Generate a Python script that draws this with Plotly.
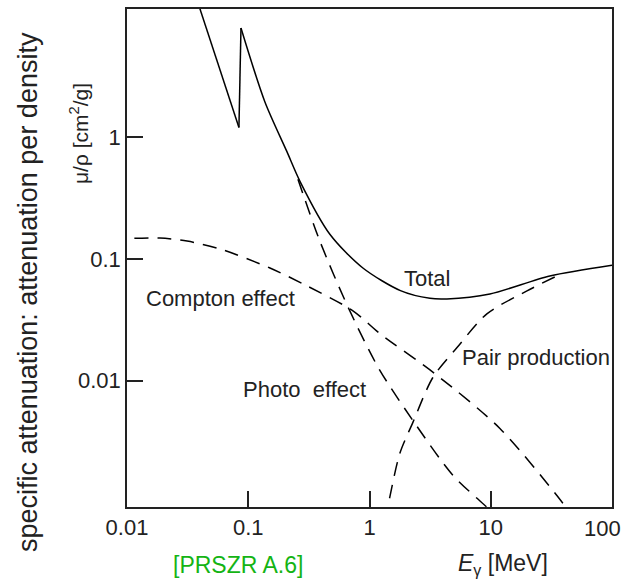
import plotly.graph_objects as go

# ---- data ----
E_total_low = [0.035, 0.0838]
mu_total_low = [17.1, 1.21]

E_total_high = [0.0838, 0.0871, 0.137, 0.208, 0.267, 0.471, 0.882, 1.8, 3.15, 4.35, 9.85, 30.7, 100]
mu_total_high = [1.21, 7.97, 1.97, 0.768, 0.436, 0.160, 0.0844, 0.055, 0.0475, 0.047, 0.0516, 0.0726, 0.089]

E_photo = [0.257, 0.390, 0.664, 1.195, 2.37, 4.88, 9.29, 11.0]
mu_photo = [0.453, 0.140, 0.0404, 0.01254, 0.00444, 0.00166, 0.00091, 0.00078]

E_compton = [0.0115, 0.0187, 0.0313, 0.0585, 0.151, 0.305, 0.730, 1.22, 3.46, 11.9, 39.3, 45.0]
mu_compton = [0.148, 0.149, 0.1405, 0.121, 0.0844, 0.0601, 0.0375, 0.0243, 0.0114, 0.00404, 0.00098, 0.00080]

E_pair = [1.35, 1.47, 1.78, 2.28, 3.33, 5.25, 9.29, 19.9, 33.7]
mu_pair = [0.0007, 0.0011, 0.00252, 0.00453, 0.0106, 0.0186, 0.0354, 0.0547, 0.0711]

x_tickvals = [0.01, 0.1, 1, 10, 100]
x_ticktext = ["0.01", "0.1", "1", "10", " "]
y_tickvals = [0.01, 0.1, 1]
y_ticktext = ["0.01", "0.1", "1"]

curve_labels = ["Total", "Compton effect", "Photo\u00a0\u00a0effect", "Pair production"]
# label positions as log10(E) and log10(mu/rho) (log axes take log-unit coordinates)
curve_label_logE = [0.473, -1.233, -0.533, 1.372]
curve_label_logmu = [-1.164, -1.328, -2.074, -1.811]

FONT = "Liberation Sans, Arial, sans-serif"
TXT = "#222222"
FS = 22

fig = go.Figure()
solid = dict(color="black", width=1.5)
dashed = dict(color="black", width=1.5, dash="14px,9px")

fig.add_trace(go.Scatter(x=E_total_low, y=mu_total_low, mode="lines", line=solid))
fig.add_trace(go.Scatter(x=E_total_high[:2], y=mu_total_high[:2], mode="lines", line=solid))
fig.add_trace(go.Scatter(x=E_total_high[1:], y=mu_total_high[1:], mode="lines",
                         line=dict(solid, shape="spline", smoothing=0.8)))
fig.add_trace(go.Scatter(x=E_photo, y=mu_photo, mode="lines",
                         line=dict(dashed, shape="spline", smoothing=0.8)))
fig.add_trace(go.Scatter(x=E_compton, y=mu_compton, mode="lines",
                         line=dict(dashed, shape="spline", smoothing=0.8)))
fig.add_trace(go.Scatter(x=E_pair, y=mu_pair, mode="lines",
                         line=dict(dashed, shape="spline", smoothing=0.8)))

for t, xe, ym in zip(curve_labels, curve_label_logE, curve_label_logmu):
    fig.add_annotation(x=xe, y=ym, xref="x", yref="y", text=t, showarrow=False,
                       xanchor="center", yanchor="middle",
                       font=dict(family=FONT, size=FS, color=TXT))

# x tick label at the right end (kept inside the page)
fig.add_annotation(x=2, y=-0.044, xref="x", yref="paper", text="100", showarrow=False,
                   xanchor="right", yanchor="middle", xshift=11,
                   font=dict(family=FONT, size=FS, color=TXT))

# axis titles
fig.add_annotation(x=-0.204, y=0.432, xref="paper", yref="paper",
                   text="specific attenuation: attenuation per density",
                   textangle=-90, showarrow=False, xanchor="center", yanchor="middle",
                   font=dict(family=FONT, size=27, color=TXT))
fig.add_annotation(x=-0.1, y=0.75, xref="paper", yref="paper",
                   text="μ/ρ [cm<sup>2</sup>/g]",
                   textangle=-90, showarrow=False, xanchor="center", yanchor="middle",
                   font=dict(family=FONT, size=21, color=TXT))
fig.add_annotation(x=0.229, y=-0.116, xref="paper", yref="paper",
                   text="[PRSZR A.6]", showarrow=False, xanchor="center", yanchor="middle",
                   font=dict(family=FONT, size=23, color="#14b414"))
fig.add_annotation(x=0.775, y=-0.116, xref="paper", yref="paper",
                   text="<i>E</i><sub>γ</sub> [MeV]", showarrow=False,
                   xanchor="center", yanchor="middle",
                   font=dict(family=FONT, size=23, color=TXT))

axis_common = dict(type="log", showgrid=False, zeroline=False,
                   showline=True, linecolor="#222222", linewidth=1.5, mirror=True,
                   ticks="inside", ticklen=16, tickwidth=1.5, tickcolor="#222222",
                   tickfont=dict(family=FONT, size=FS, color=TXT))

fig.update_xaxes(range=[-2, 2], tickvals=x_tickvals, ticktext=x_ticktext, **axis_common)
fig.update_yaxes(range=[-3.04, 1.057], tickvals=y_tickvals, ticktext=y_ticktext, **axis_common)

fig.update_layout(width=623, height=581, showlegend=False,
                  margin=dict(l=127, r=11, t=7, b=74),
                  paper_bgcolor="white", plot_bgcolor="white")

fig.write_html("out.html")
